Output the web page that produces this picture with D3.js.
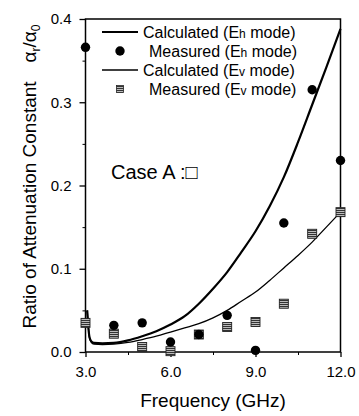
<!DOCTYPE html>
<html>
<head>
<meta charset="utf-8">
<script src="https://cdn.jsdelivr.net/npm/d3@7"></script>
<style>
  body { margin: 0; background: #fff; }
  svg { display: block; font-family: "Liberation Sans", Arial, sans-serif; }
</style>
</head>
<body>
<svg id="chart"></svg>
<script>
const width = 359
const height = 416
const margin = { top: 19, right: 18.5, bottom: 64, left: 85.5 }

// measured points (GHz, ratio)
const measFreq = [3, 4, 5, 6, 7, 8, 9, 10, 11, 12]
const measEh = [0.366, 0.032, 0.035, 0.012, 0.021, 0.044, 0.002, 0.155, 0.315, 0.23]
const measEv = [0.035, 0.022, 0.006, 0.001, 0.021, 0.03, 0.036, 0.058, 0.142, 0.168]

// calculated curves
const calcFreq = [3.06, 3.1, 3.14, 3.2, 3.3, 3.6, 4.0, 4.5, 5.0, 5.5, 6.0, 6.5, 7.0, 7.5, 8.0, 8.5, 9.0, 9.5, 10.0, 10.5, 11.0, 11.5, 12.0]
const calcEh = [0.05, 0.03, 0.018, 0.013, 0.011, 0.0105, 0.011, 0.014, 0.019, 0.025, 0.033, 0.043, 0.058, 0.076, 0.096, 0.12, 0.145, 0.175, 0.21, 0.252, 0.297, 0.342, 0.388]
const calcEv = [0.05, 0.03, 0.017, 0.012, 0.0095, 0.009, 0.0095, 0.0115, 0.015, 0.019, 0.024, 0.029, 0.034, 0.041, 0.05, 0.061, 0.072, 0.086, 0.101, 0.116, 0.132, 0.15, 0.168]

const xTicks = [3, 6, 9, 12]
const xMinor = [4.5, 7.5, 10.5]
const yTicks = [0, 0.1, 0.2, 0.3, 0.4]
const yMinor = [0.05, 0.15, 0.25, 0.35]

const legendRows = ['Calculated', 'Measured', 'Calculated', 'Measured']
const legendSub = ['h', 'h', 'v', 'v']

const svg = d3.select('#chart').attr('width', width).attr('height', height)

const x = d3.scaleLinear().domain([3, 12]).range([margin.left, width - margin.right])
const y = d3.scaleLinear().domain([0, 0.4]).range([height - margin.bottom, margin.top])

// hatch for the Ev squares
const pat = svg.append('defs').append('pattern')
  .attr('id', 'hatch').attr('patternUnits', 'userSpaceOnUse')
  .attr('width', 2).attr('height', 2)
pat.append('rect').attr('width', 2).attr('height', 2).attr('fill', '#bbb')
pat.append('rect').attr('width', 2).attr('height', 1).attr('fill', '#333')

// frame
svg.append('rect')
  .attr('x', x(3)).attr('y', y(0.4))
  .attr('width', x(12) - x(3)).attr('height', y(0) - y(0.4))
  .attr('fill', 'none').attr('stroke', '#000').attr('stroke-width', 1.5)

const xAxis = d3.axisBottom(x).tickValues(xTicks).tickFormat(d3.format('.1f')).tickSize(5).tickPadding(9)
const gx = svg.append('g').attr('transform', `translate(0,${y(0)})`).call(xAxis)
gx.select('.domain').remove()
gx.selectAll('line').attr('stroke-width', 1.3)
gx.selectAll('text').attr('font-size', 15).attr('fill', '#000')
svg.append('g').attr('transform', `translate(0,${y(0)})`)
  .call(d3.axisBottom(x).tickValues(xMinor).tickSize(3).tickFormat(''))
  .call(g => g.select('.domain').remove())

const yAxis = d3.axisLeft(y).tickValues(yTicks).tickFormat(d3.format('.1f')).tickSize(6).tickPadding(8)
const gy = svg.append('g').attr('transform', `translate(${x(3)},0)`).call(yAxis)
gy.select('.domain').remove()
gy.selectAll('line').attr('stroke-width', 1.3)
gy.selectAll('text').attr('font-size', 15).attr('fill', '#000')
svg.append('g').attr('transform', `translate(${x(3)},0)`)
  .call(d3.axisLeft(y).tickValues(yMinor).tickSize(3).tickFormat(''))
  .call(g => g.select('.domain').remove())

// axis titles
svg.append('text')
  .attr('x', (x(3) + x(12)) / 2).attr('y', 407)
  .attr('text-anchor', 'middle').attr('font-size', 19)
  .text('Frequency (GHz)')

const yl = svg.append('text')
  .attr('transform', `translate(36,${(345 + 8) / 2}) rotate(-90)`)
  .attr('text-anchor', 'middle').attr('font-size', 19)
yl.append('tspan').text('Ratio of Attenuation Constant\u2002\u2002α')
yl.append('tspan').attr('font-size', 12).attr('dy', 4).text('r')
yl.append('tspan').attr('dy', -4).text('/α')
yl.append('tspan').attr('font-size', 12).attr('dy', 4).text('0')

// curves
const line = d3.line().x(d => x(d[0])).y(d => y(d[1])).curve(d3.curveMonotoneX)
svg.append('path').datum(d3.zip(calcFreq, calcEh))
  .attr('d', line).attr('fill', 'none').attr('stroke', '#000').attr('stroke-width', 2.2)
svg.append('path').datum(d3.zip(calcFreq, calcEv))
  .attr('d', line).attr('fill', 'none').attr('stroke', '#000').attr('stroke-width', 1.3)

// measured Ev squares
svg.append('g').selectAll('rect').data(d3.zip(measFreq, measEv)).join('rect')
  .attr('x', d => x(d[0]) - 4.5).attr('y', d => y(d[1]) - 4.5)
  .attr('width', 9).attr('height', 9)
  .attr('fill', 'url(#hatch)').attr('stroke', '#222').attr('stroke-width', 0.9)

// measured Eh circles
svg.append('g').selectAll('circle').data(d3.zip(measFreq, measEh)).join('circle')
  .attr('cx', d => x(d[0])).attr('cy', d => y(d[1])).attr('r', 4.7).attr('fill', '#000')

// legend
const leg = svg.append('g')
const rowY = [32, 51, 70, 89]
leg.append('line').attr('x1', 102).attr('x2', 138).attr('y1', rowY[0]).attr('y2', rowY[0])
  .attr('stroke', '#000').attr('stroke-width', 2.2)
leg.append('circle').attr('cx', 120).attr('cy', rowY[1]).attr('r', 4.7).attr('fill', '#000')
leg.append('line').attr('x1', 102).attr('x2', 138).attr('y1', rowY[2]).attr('y2', rowY[2])
  .attr('stroke', '#000').attr('stroke-width', 1.3)
leg.append('rect').attr('x', 116.5).attr('y', rowY[3] - 3.5).attr('width', 7).attr('height', 7)
  .attr('fill', 'url(#hatch)').attr('stroke', '#222').attr('stroke-width', 0.8)

legendRows.forEach((name, i) => {
  const t = leg.append('text')
    .attr('x', name === 'Measured' ? 149 : 143).attr('y', rowY[i] + 6)
    .attr('font-size', 16)
  t.append('tspan').text(`${name} (E`)
  t.append('tspan').attr('font-size', 12).text(legendSub[i])
  t.append('tspan').text(' mode)')
})

// case label
svg.append('text')
  .attr('x', 111).attr('y', 179)
  .attr('font-size', 20)
  .text('Case A :□')
</script>
</body>
</html>
